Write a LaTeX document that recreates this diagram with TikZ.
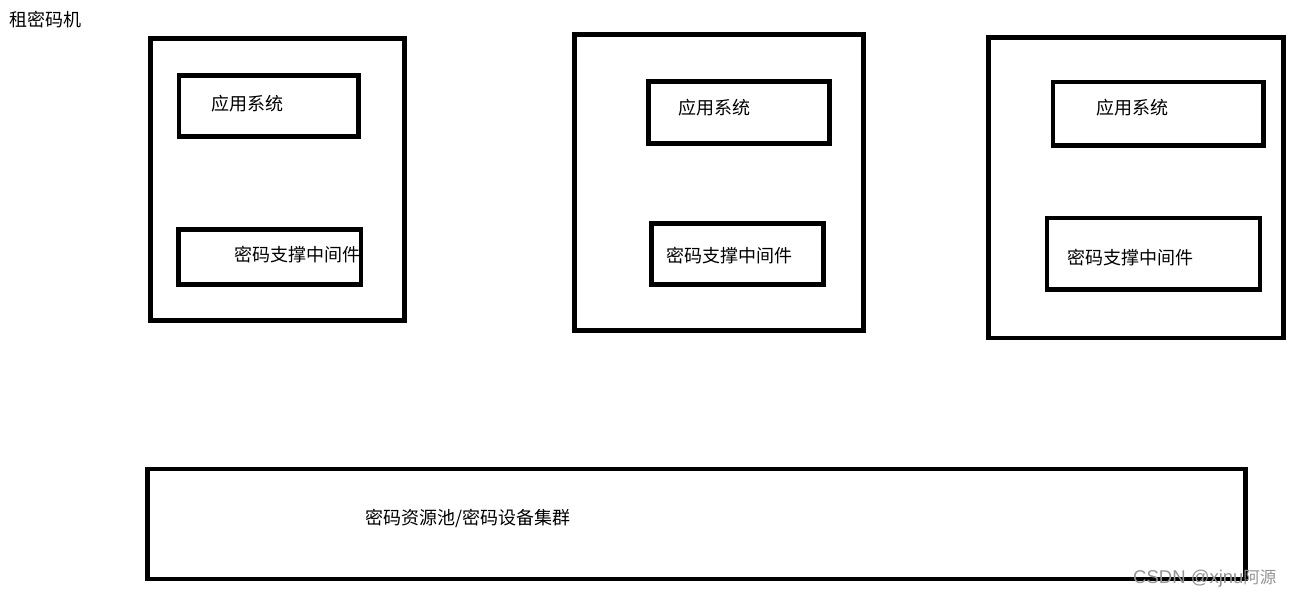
\documentclass[tikz,border=0pt]{standalone}
\usepackage{fontspec}
\setmainfont{Noto Sans CJK SC}
\newfontfamily\wmlatin{Liberation Sans}
\newfontfamily\wmcjk{Noto Sans CJK SC}
\begin{document}
\begin{tikzpicture}[x=1pt,y=-1pt,
  boxline/.style={draw=black,line width=4.5pt},
  lbl/.style={anchor=west,inner sep=0pt,font=\fontsize{18}{20}\selectfont},
  wm/.style={anchor=west,inner sep=0pt,text=black!42}]
\useasboundingbox[fill=white] (0,0) rectangle (1295,598);
% title
\node[lbl] (title) at (9,20) {租密码机};
% machine 1
\draw[boxline] (150.5,38.5) rectangle (404.5,320.5) coordinate (m1);
\draw[boxline] (179,75.5) rectangle (358.5,136.5) coordinate (a1);
\draw[boxline] (178.5,229.5) rectangle (361,284.5) coordinate (w1);
\node[lbl] (ta1) at (211,104) {应用系统};
\node[lbl] (tw1) at (234,255) {密码支撑中间件};
% machine 2
\draw[boxline] (574.5,34.5) rectangle (863.5,330.5) coordinate (m2);
\draw[boxline] (648.5,81.5) rectangle (829.5,143.5) coordinate (a2);
\draw[boxline] (651.5,223.5) rectangle (823.5,284.5) coordinate (w2);
\node[lbl] (ta2) at (678,108) {应用系统};
\node[lbl] (tw2) at (666,256) {密码支撑中间件};
% machine 3
\draw[boxline] (988.5,37.5) rectangle (1283.5,338) coordinate (m3);
\draw[boxline] (1053,82) rectangle (1263.5,145.5) coordinate (a3);
\draw[boxline] (1047,218) rectangle (1260,289.5) coordinate (w3);
\node[lbl] (ta3) at (1096,108) {应用系统};
\node[lbl] (tw3) at (1067,258) {密码支撑中间件};
% pool
\draw[boxline] (147.5,469) rectangle (1245.5,579) coordinate (pool);
\node[lbl] (tp) at (365,518) {密码资源池/密码设备集群};
% watermark
\node[wm] (wmk) at (1133,579) {{\wmlatin\fontsize{18.5}{20}\selectfont CSDN @xjnu}{\wmcjk\fontsize{16.5}{18}\selectfont 阿源}};
\end{tikzpicture}
\end{document}
